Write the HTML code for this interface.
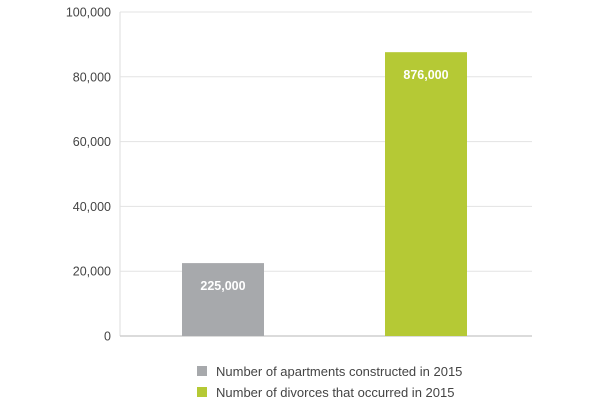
<!DOCTYPE html>
<html><head><meta charset="utf-8"><style>
body{margin:0;background:#fff;}
svg{display:block;font-family:"Liberation Sans",sans-serif;}
</style></head><body>
<svg id="chart" width="600" height="403"></svg>
<script>
const categories = ["Number of apartments constructed in 2015", "Number of divorces that occurred in 2015"];
const values = [22500, 87600];
const valueLabels = ["225,000", "876,000"];
const colors = ["#a7a9ac", "#b5c935"];
const yTicks = [0, 20000, 40000, 60000, 80000, 100000];
const yTickLabels = ["0", "20,000", "40,000", "60,000", "80,000", "100,000"];

const NS = "http://www.w3.org/2000/svg";
const svg = document.getElementById("chart");
const x0 = 120, x1 = 532, yTop = 12, yBot = 336, yMax = 100000;
function y(v){ return yBot - (v / yMax) * (yBot - yTop); }
const slotW = (x1 - x0) / categories.length, barW = 82;
function bx(i){ return x0 + slotW * i + slotW / 2 - barW / 2 + (i === 0 ? 0 : -3); }
function mk(tag, attrs){ const e = document.createElementNS(NS, tag); for (const k in attrs) e.setAttribute(k, attrs[k]); svg.appendChild(e); return e; }

// left axis line
const ax = mk("line", {x1: x0, y1: yTop, x2: x0, y2: yBot, stroke: "#dcdcdc", "stroke-width": 1});



yTicks.forEach((t, i) => {
  const g = mk("line", {x1: x0, y1: y(t), x2: x1, y2: y(t), stroke: i === 0 ? "#cfcfcf" : "#e3e3e3", "stroke-width": i === 0 ? 1.5 : 1});
  
  
  const tx = mk("text", {x: 111, y: y(t) + 4.5, "text-anchor": "end", "font-size": 12.5, fill: "#444"});
  tx.textContent = yTickLabels[i];
  
  
});

values.forEach((v, i) => {
  const r = mk("rect", {x: bx(i), y: y(v), width: barW, height: yBot - y(v), fill: colors[i]});
  
  
  const t = mk("text", {x: bx(i) + barW / 2, y: y(v) + 27, "text-anchor": "middle", "font-size": 12.5, "font-weight": "bold", fill: "#fff"});
  t.textContent = valueLabels[i];
  
  
});

categories.forEach((c, i) => {
  const ly = 366 + i * 21;
  const s = mk("rect", {x: 197, y: ly, width: 10, height: 10, fill: colors[i]});
  
  
  const t = mk("text", {x: 216, y: ly + 10, "font-size": 13, fill: "#444"});
  t.textContent = c;
  
  
});
</script>
</body></html>
